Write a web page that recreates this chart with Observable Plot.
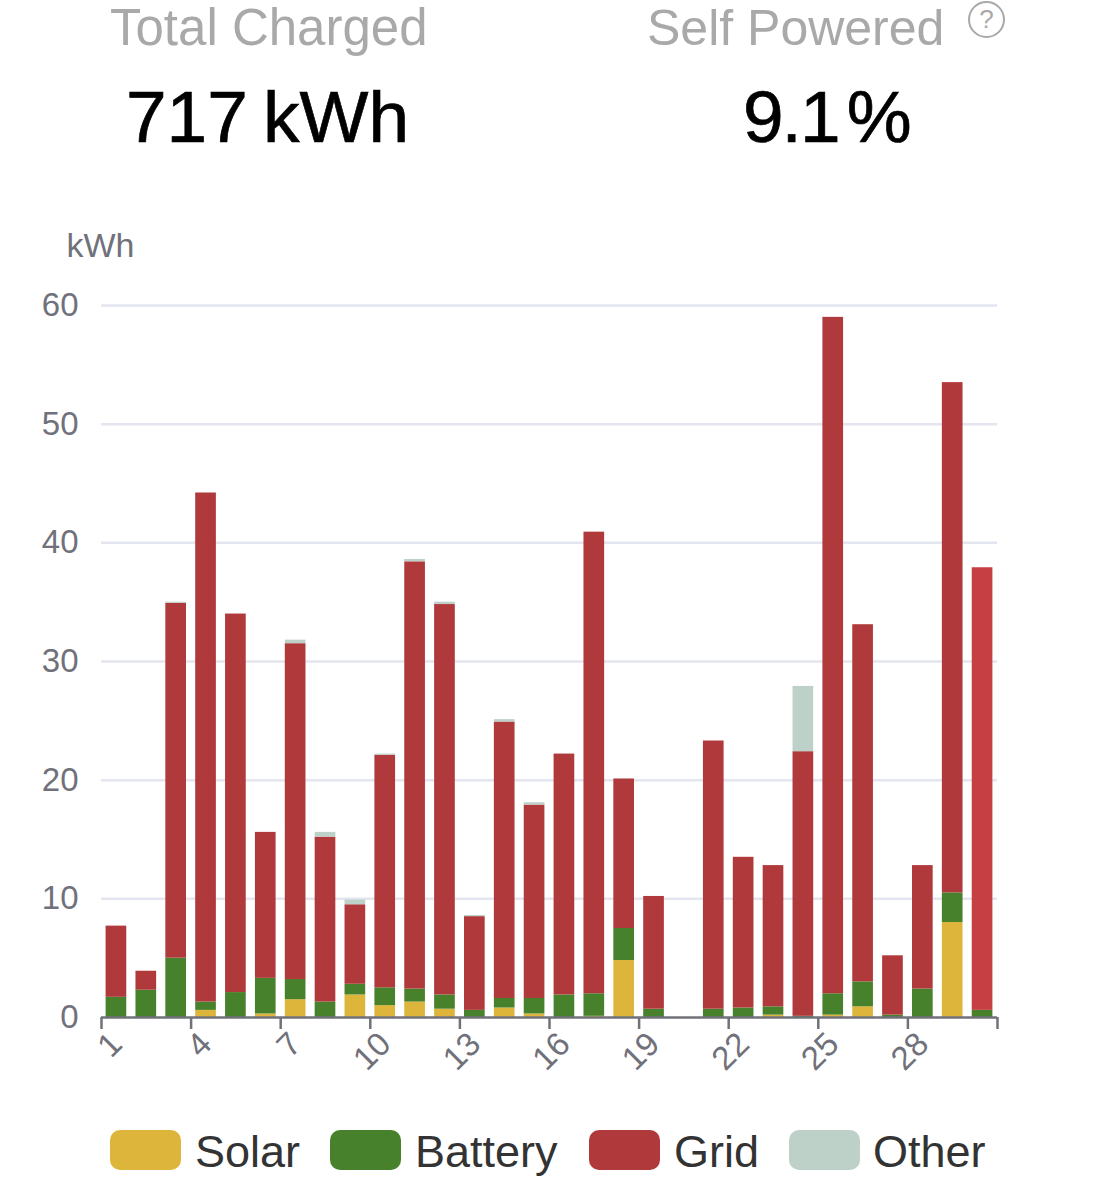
<!DOCTYPE html>
<html>
<head>
<meta charset="utf-8">
<script src="https://cdn.jsdelivr.net/npm/d3@7"></script>
<script src="https://cdn.jsdelivr.net/npm/@observablehq/plot@0.6"></script>
<style>
html,body{margin:0;padding:0;background:#fff;}
body{position:relative;width:1120px;height:1200px;overflow:hidden;font-family:"Liberation Sans",sans-serif;}
.h{position:absolute;white-space:nowrap;line-height:1;}
.lab{color:#a9a9a9;font-size:51px;}
.val{color:#000;font-size:73px;-webkit-text-stroke:0.7px #000;}
#help{position:absolute;left:968px;top:1px;width:33px;height:33px;border:2.5px solid #a9a9a9;border-radius:50%;color:#a9a9a9;font-size:26px;line-height:33px;text-align:center;}
#chart{position:absolute;left:-0.4px;top:229.6px;}
.sw{position:absolute;top:1130px;width:71px;height:40px;border-radius:10px;}
.lt{position:absolute;top:1130px;font-size:45px;line-height:44px;color:#333;white-space:nowrap;}
</style>
</head>
<body>
<div class="h lab" style="left:110px;top:2px">Total Charged</div>
<div class="h lab" style="left:647px;top:3px;font-size:50px">Self Powered</div>
<div id="help">?</div>
<div class="h val" style="left:126px;top:80px;word-spacing:-5px">717 kWh</div>
<div class="h val" style="left:743px;top:80px;word-spacing:-10px;letter-spacing:-2px">9.1 %</div>
<div id="chart"></div>
<div id="legend"></div>
<script>
const days = d3.range(1, 31);
const seriesNames = ["Solar", "Battery", "Grid", "Other"];
const seriesColors = ["#deb53b", "#48812c", "#b0393b", "#bdd1c9"];
const latestGridColor = "#c53f43";
const solar   = [0,0,0,.6,0,.3,1.5,0,1.9,1.0,1.3,.7,0,.8,.3,0,.1,4.8,0,0,0,0,.2,0,.2,.9,0,0,8.0,0];
const battery = [1.7,2.3,5.0,.7,2.1,3.0,1.7,1.3,.9,1.5,1.1,1.2,.6,.8,1.3,1.9,1.9,2.7,.7,0,.7,.8,.7,.1,1.8,2.1,.2,2.4,2.5,.6];
const grid    = [6.0,1.6,29.9,42.9,31.9,12.3,28.3,13.9,6.7,19.6,36.0,32.9,7.9,23.3,16.3,20.3,38.9,12.6,9.5,0,22.6,12.7,11.9,22.3,57.0,30.1,5.0,10.4,43.0,37.3];
const other   = [0,0,.1,0,0,0,.3,.4,.4,.1,.2,.2,.1,.2,.2,0,0,0,0,0,0,0,0,5.5,0,0,0,0,0,0];
const yTicks = [0,10,20,30,40,50,60];
const xTicks = [1,4,7,10,13,16,19,22,25,28,31];
const xLabelTicks = [1,4,7,10,13,16,19,22,25,28];
const seriesValues = [solar, battery, grid, other];

const rows = seriesNames.flatMap((name, s) =>
  days.map((day, i) => ({day, series: name, value: seriesValues[s][i],
    color: (name === "Grid" && day === 30) ? latestGridColor : seriesColors[s]})));

const axisGray = "#70717a";
const plot = Plot.plot({
  width: 1120, height: 860,
  marginLeft: 101, marginRight: 123, marginTop: 75, marginBottom: 73,
  style: {fontFamily: '"Liberation Sans",sans-serif', background: "transparent", overflow: "visible"},
  x: {type: "linear", domain: [1, 31], axis: null},
  y: {domain: [0, 60], axis: null},
  color: {type: "identity"},
  marks: [
    Plot.ruleY(yTicks.filter(d => d > 0), {stroke: "#e3e5ef", strokeWidth: 2.5}),
    Plot.rectY(rows, {x1: "day", x2: d => d.day + 1, y: "value", z: "series", fill: "color",
      order: seriesNames, insetLeft: 4.6, insetRight: 4.6}),
    Plot.axisY({ticks: yTicks, tickSize: 0, tickPadding: 23, fontSize: 33, color: axisGray, label: null}),
    Plot.text(["kWh"], {frameAnchor: "top-left", dx: -35, dy: -73, textAnchor: "start", fontSize: 34, fill: axisGray}),
    Plot.axisX({ticks: xTicks, tickSize: 12, stroke: axisGray, strokeWidth: 2.5, label: null, tickFormat: () => ""}),
    Plot.axisX({ticks: xLabelTicks, tickSize: 0, tickPadding: 20, tickRotate: -45, fontSize: 33, fill: axisGray,
      dx: 15, dy: 1, label: null, tickFormat: d => String(d)}),
    Plot.ruleY([0], {stroke: axisGray, strokeWidth: 2.5})
  ]
});
document.getElementById("chart").appendChild(plot);

const swatchX = [110, 330, 589, 789];
const textX = [195, 415, 674, 873];
const legend = document.getElementById("legend");
seriesNames.forEach((name, i) => {
  const s = document.createElement("div");
  s.className = "sw"; s.style.left = swatchX[i] + "px"; s.style.background = seriesColors[i];
  const t = document.createElement("div");
  t.className = "lt"; t.style.left = textX[i] + "px"; t.textContent = name;
  legend.append(s, t);
});
</script>
</body>
</html>
